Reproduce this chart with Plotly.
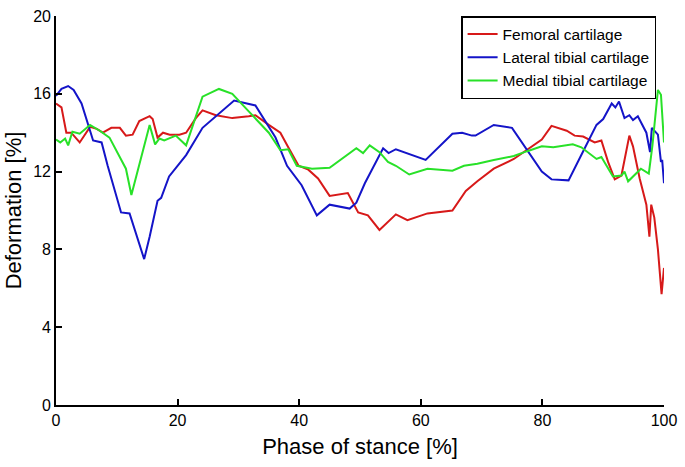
import plotly.graph_objects as go

fem_x = [0, 0.9, 1.7, 2.5, 3.9, 5.6, 6.7, 7.7, 9.1, 10.5, 11.5, 12.6, 13.7, 15.4, 15.9, 16.7, 17.6, 18.7,
         20.3, 21.4, 23.0, 24.1, 26.3, 29.0, 31.7, 32.8, 35.0, 36.9, 38.2, 39.9, 41.5, 43.1, 45.0, 48.0,
         49.7, 51.3, 53.2, 55.9, 57.8, 61.1, 65.2, 67.4, 69.3, 72.0, 75.3, 77.5, 79.9, 81.5, 84.0, 85.3,
         86.7, 88.6, 89.7, 90.8, 91.9, 93.0, 94.3, 94.9, 96.0, 97.1, 97.6, 97.9, 98.4, 99.0, 99.6, 100]
fem_y = [15.5, 15.3, 14.0, 14.0, 13.5, 14.3, 14.2, 14.0, 14.25, 14.25, 13.85, 13.9, 14.6, 14.85, 14.7,
         13.75, 14.0, 13.9, 13.9, 14.0, 14.75, 15.15, 14.9, 14.75, 14.85, 14.9, 14.4, 14.0, 13.25, 12.3,
         12.1, 11.65, 10.75, 10.9, 9.9, 9.75, 9.0, 9.8, 9.5, 9.85, 10.0, 11.0, 11.5, 12.15, 12.65, 13.15,
         13.65, 14.35, 14.1, 13.85, 13.8, 13.5, 13.6, 12.5, 11.6, 11.8, 13.85, 13.3, 11.65, 10.3, 8.65,
         10.3, 9.65, 8.0, 5.7, 7.05]

lat_x = [0, 0.9, 2.0, 2.9, 4.2, 6.1, 7.5, 8.5, 10.7, 12.1, 14.5, 15.4, 16.7, 17.3, 18.6, 21.4, 24.1,
         26.8, 29.3, 32.8, 36.1, 38.0, 40.4, 42.9, 45.0, 48.3, 49.4, 50.8, 52.9, 53.8, 54.7, 55.9,
         60.8, 65.2, 66.8, 68.4, 69.0, 72.0, 75.0, 77.5, 79.9, 81.5, 84.3, 86.4, 88.9, 90.0, 91.4,
         92.0, 92.6, 93.5, 94.3, 94.9, 95.7, 97.1, 97.7, 98.0, 99.0, 99.5, 99.7, 100]
lat_y = [15.9, 16.25, 16.4, 16.2, 15.5, 13.6, 13.5, 12.3, 9.9, 9.85, 7.5, 8.65, 10.5, 10.65, 11.75,
         12.85, 14.25, 15.0, 15.65, 15.4, 13.75, 12.3, 11.3, 9.75, 10.3, 10.1, 10.4, 11.4, 12.65, 13.2,
         12.95, 13.15, 12.6, 13.95, 14.0, 13.85, 13.85, 14.4, 14.25, 13.1, 12.0, 11.6, 11.55, 12.85,
         14.4, 14.7, 15.5, 15.3, 15.6, 14.75, 14.9, 14.65, 14.85, 14.0, 13.0, 14.25, 13.9, 12.5, 12.6, 11.4]

med_x = [0, 0.7, 1.5, 2.0, 2.7, 3.9, 5.6, 7.2, 8.8, 11.5, 12.4, 14.3, 15.4, 16.3, 17.0, 17.8, 19.7,
         21.4, 24.1, 26.8, 29.0, 31.7, 35.0, 36.9, 38.2, 39.6, 42.1, 45.0, 49.4, 50.5, 51.6, 53.2,
         54.6, 55.9, 58.1, 61.1, 65.2, 67.1, 69.3, 72.0, 75.3, 77.5, 79.9, 81.8, 85.0, 86.4, 88.9,
         89.7, 91.6, 93.0, 93.5, 94.1, 96.2, 97.5, 98.1, 99.0, 99.5, 100]
med_y = [13.65, 13.5, 13.7, 13.35, 14.05, 13.95, 14.4, 14.1, 13.75, 12.15, 10.8, 13.15, 14.4, 13.4,
         13.7, 13.6, 13.85, 13.35, 15.85, 16.25, 16.0, 15.1, 14.0, 13.1, 13.15, 12.3, 12.15, 12.2,
         13.2, 12.95, 13.35, 13.0, 12.5, 12.3, 11.85, 12.15, 12.05, 12.3, 12.4, 12.6, 12.8, 13.05,
         13.3, 13.25, 13.4, 13.25, 12.65, 12.75, 11.75, 11.8, 12.0, 11.5, 12.15, 11.9, 13.35, 16.2,
         15.95, 13.5]

x_ticks = [0, 20, 40, 60, 80, 100]
y_ticks = [0, 4, 8, 12, 16, 20]

names = ["Femoral cartilage", "Lateral tibial cartilage", "Medial tibial cartilage"]
colors = ["rgb(215,25,25)", "rgb(20,20,200)", "rgb(40,225,40)"]

fig = go.Figure()
for xs, ys, n, c in zip([fem_x, lat_x, med_x], [fem_y, lat_y, med_y], names, colors):
    fig.add_trace(go.Scatter(x=xs, y=ys, mode="lines", name=n,
                             line=dict(color=c, width=2)))

axis_common = dict(showgrid=False, zeroline=False, showline=True, linecolor="black",
                   linewidth=1.6, ticks="inside", ticklen=6, tickcolor="black", tickwidth=1.6,
                   tickfont=dict(size=16, color="black"), mirror=False,
                   ticklabeloverflow="allow")

fig.update_layout(
    width=685, height=467,
    paper_bgcolor="white", plot_bgcolor="white",
    font=dict(family="Liberation Sans, Arial, sans-serif", color="black"),
    margin=dict(l=56, r=16, t=8, b=62),
    xaxis=dict(range=[0, 100], tickvals=x_ticks,
               title=dict(text="Phase of stance [%]", font=dict(size=22), standoff=11),
               **axis_common),
    yaxis=dict(range=[0, 20], tickvals=y_ticks,
               title=dict(text="Deformation [%]", font=dict(size=22), standoff=6),
               **axis_common),
    legend=dict(x=0.987, y=1.0, xanchor="right", yanchor="top",
                bgcolor="white", bordercolor="black", borderwidth=1.5,
                font=dict(size=15.5, color="black"), itemwidth=30,
                tracegroupgap=0),
    showlegend=True,
)

fig.write_html("out.html", config={"displayModeBar": False},
               post_script="document.body.style.margin='0px';")
